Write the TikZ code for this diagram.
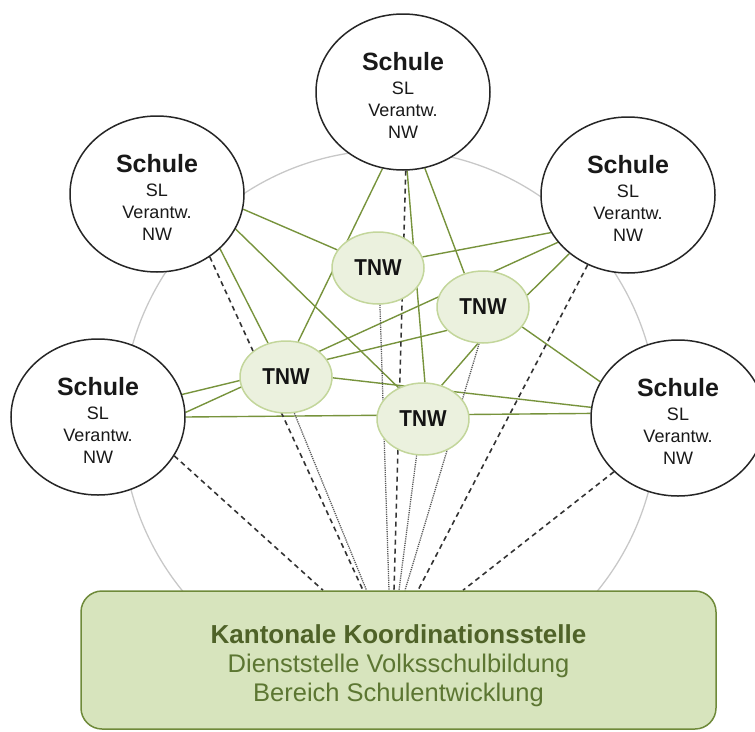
\documentclass[tikz,border=0pt]{standalone}
\usepackage{fontspec}
\setmainfont{Liberation Sans}
\newfontfamily\tnwfont{Liberation Sans}[FakeStretch=0.9]
\usetikzlibrary{shapes.geometric}
\pgfdeclarelayer{bg}
\pgfsetlayers{bg,main}
\definecolor{lgreen}{HTML}{77933C}
\definecolor{tnwfill}{HTML}{EBF1DE}
\definecolor{tnwline}{HTML}{C3D69B}
\definecolor{boxfill}{HTML}{D7E4BD}
\definecolor{boxline}{HTML}{6F8A3A}
\definecolor{boxtextA}{HTML}{4F6228}
\definecolor{boxtextB}{HTML}{5C7632}
\definecolor{ringgray}{HTML}{C8C8C8}
\tikzset{
  schule/.style={ellipse, draw=black!85, line width=1.5pt, fill=white,
    minimum width=174pt, minimum height=156pt, inner sep=0pt},
  schtext/.style={align=center, inner sep=0pt, text=black!90,
    font=\fontsize{18}{22}\selectfont},
  tnw/.style={ellipse, draw=tnwline, fill=tnwfill, line width=1.5pt,
    minimum width=92pt, minimum height=72pt, inner sep=0pt, text=black!92,
    font=\tnwfont\bfseries\fontsize{23}{23}\selectfont},
  kbox/.style={draw=boxline, fill=boxfill, line width=1.5pt,
    rounded corners=21pt, minimum width=635pt, minimum height=138pt, inner sep=0pt},
  ktext/.style={align=center, inner sep=0pt, text=boxtextB,
    font=\fontsize{25.5}{28.5}\selectfont},
  link/.style={draw=lgreen, line width=1.4pt},
  kdash/.style={draw=black!80, line width=1.6pt, dash pattern=on 5pt off 4pt},
  kdot/.style={draw=black!65, line width=1.3pt, dash pattern=on 1.2pt off 1pt},
  ring/.style={draw=ringgray, line width=1.3pt}
}
\begin{document}
\begin{tikzpicture}[x=1pt,y=-1pt]
\useasboundingbox (0,0) rectangle (755,731);

% Schulen
\node[schule] (ST)  at (403,92)  {};
\node[schule] (SUL) at (157,194) {};
\node[schule] (SUR) at (628,195) {};
\node[schule] (SL)  at (98,417)  {};
\node[schule] (SR)  at (678,418) {};
\foreach \s in {ST,SUL,SUR,SL,SR}{
  \node[schtext] (\s t) at ([yshift=-3.6pt]\s.center)
    {{\bfseries\fontsize{25}{22}\selectfont Schule}\\[1.4pt]SL\\Verantw.\\NW};
}

% TNW
\node[tnw] (T1) at (378,268) {TNW};
\node[tnw] (T2) at (483,307) {TNW};
\node[tnw] (T3) at (286,377) {TNW};
\node[tnw] (T4) at (423,419) {TNW};

% Kantonale Koordinationsstelle
\node[kbox] (K) at (398.5,660) {};
\node[ktext] (Kt) at ([yshift=-5.5pt]K.center)
  {{\color{boxtextA}\bfseries\fontsize{26}{28.5}\selectfont Kantonale Koordinationsstelle}\\[1pt]
   Dienststelle Volksschulbildung\\
   Bereich Schulentwicklung};

\begin{pgfonlayer}{bg}
  \draw[ring] (390,420) ellipse [x radius=268pt, y radius=270pt];
  % green links
  \draw[link] (ST.255) -- (T3.71);
  \draw[link] (ST.273) -- (T4.87);
  \draw[link] (ST.286) -- (T2.119);
  \draw[link] (SUL.350) -- (T1.156);
  \draw[link] (SUL.319) -- (T3.118);
  \draw[link] (SUL.336) -- (T4.128);
  \draw[link] (SUR.206) -- (T1.14);
  \draw[link] (SUR.214) -- (SL.3);
  \draw[link] (SUR.225) -- (T2.15);
  \draw[link] (SL.15) -- (T2.213);
  \draw[link] (SL.0) -- (SR.177);
  \draw[link] (T3.359) -- (SR.173);
  \draw[link] (T2.262) -- (T4.61);
  \draw[link] (T2.333) -- (SR.155);
  % dashed links to the canton
  \draw[kdash] (ST.272) -- ([xshift=-4.5pt]K.north);
  \draw[kdash] (SUL.310) -- ([xshift=-35.5pt]K.north);
  \draw[kdash] (SL.333) -- ([xshift=-75.5pt]K.north);
  \draw[kdash] (SUR.240) -- ([xshift=19.5pt]K.north);
  \draw[kdash] (SR.220) -- ([xshift=64.5pt]K.north);
  % dotted links to the canton
  \draw[kdot] (T3.283) -- ([xshift=-32pt]K.north);
  \draw[kdot] (T1.273) -- ([xshift=-9.5pt]K.north);
  \draw[kdot] (T4.260) -- ([xshift=0.5pt]K.north);
  \draw[kdot] (T2.264) -- ([xshift=6.5pt]K.north);
\end{pgfonlayer}
\end{tikzpicture}
\end{document}
